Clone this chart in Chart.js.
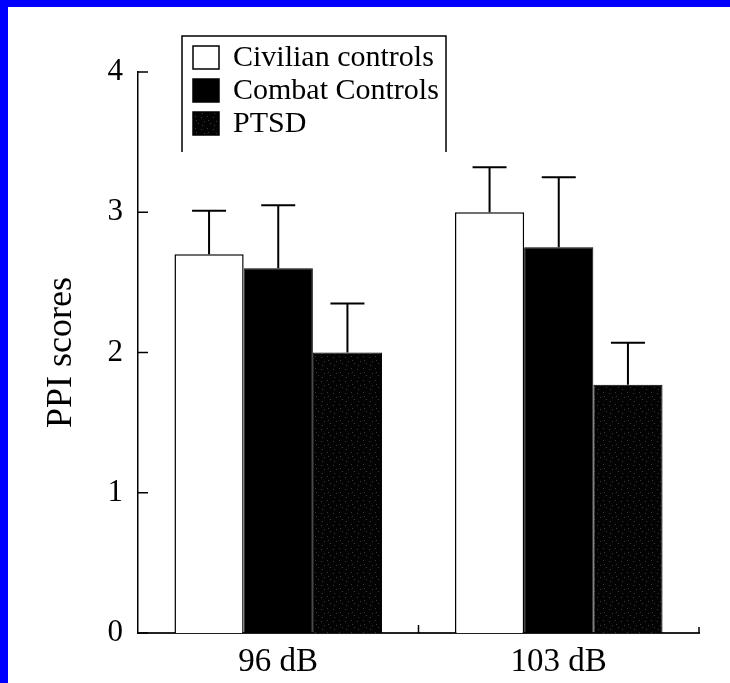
<!DOCTYPE html>
<html><head><meta charset="utf-8">
<script src="https://cdn.jsdelivr.net/npm/chart.js@4"></script>
<style>
html,body{margin:0;padding:0;background:#fff;}
#wrap{position:absolute;left:0;top:0;width:722px;height:676px;border-left:8px solid #0000ff;border-top:7px solid #0000ff;background:#fff;}
#c{display:block;}
</style></head><body>
<div id="wrap"><canvas id="c" width="722" height="676"></canvas></div>
<script>
const categories = ['96 dB', '103 dB'];
const seriesNames = ['Civilian controls', 'Combat Controls', 'PTSD'];
const civilian = [2.70, 3.00];
const combat = [2.60, 2.75];
const ptsd = [2.00, 1.77];
const civilianErr = [0.31, 0.32];
const combatErr = [0.45, 0.50];
const ptsdErr = [0.35, 0.30];
const yTicks = [0, 1, 2, 3, 4];

const FONT = '"Liberation Serif", "Times New Roman", serif';

// speckled near-black texture for the PTSD bars (fixed dot layout)
function speckle() {
  const c = document.createElement('canvas');
  c.width = 12; c.height = 12;
  const g = c.getContext('2d');
  g.fillStyle = '#030303';
  g.fillRect(0, 0, 12, 12);
  g.fillStyle = '#3a3a3a';
  [[1,2],[7,1],[4,6],[10,8],[2,10],[8,5]].forEach(p => g.fillRect(p[0], p[1], 1, 1));
  return g.createPattern(c, 'repeat');
}

const errorBars = {
  id: 'errorBars',
  afterDatasetsDraw(chart) {
    const ctx = chart.ctx, ys = chart.scales.y;
    chart.data.datasets.forEach((ds, i) => {
      const meta = chart.getDatasetMeta(i);
      meta.data.forEach((el, j) => {
        const top = ys.getPixelForValue(ds.data[j] + ds.errors[j]);
        const base = el.y;
        ctx.save();
        ctx.strokeStyle = '#000';
        ctx.lineWidth = 2;
        ctx.beginPath();
        ctx.moveTo(el.x, base);
        ctx.lineTo(el.x, top);
        ctx.moveTo(el.x - 17, top);
        ctx.lineTo(el.x + 17, top);
        ctx.stroke();
        ctx.restore();
      });
    });
  }
};

const inwardTicks = {
  id: 'inwardTicks',
  afterDatasetsDraw(chart) {
    const ctx = chart.ctx, ys = chart.scales.y, xs = chart.scales.x;
    const a = chart.chartArea;
    ctx.save();
    ctx.strokeStyle = '#000';
    ctx.lineWidth = 1.5;
    ctx.beginPath();
    ys.ticks.forEach(t => {
      const y = ys.getPixelForValue(t.value);
      ctx.moveTo(a.left, y);
      ctx.lineTo(a.left + 10, y);
    });
    const n = xs.ticks.length;
    for (let k = 1; k <= n; k++) {
      const x = xs.getPixelForValue(k - 0.5);
      ctx.moveTo(x, a.bottom);
      ctx.lineTo(x, a.bottom - (k === n ? 6 : 8));
    }
    ctx.stroke();
    ctx.restore();
  }
};

const boxLegend = {
  id: 'boxLegend',
  afterDraw(chart) {
    const ctx = chart.ctx;
    const L = 174, R = 438, T = 29, B = 145;
    ctx.save();
    ctx.strokeStyle = '#000';
    ctx.lineWidth = 1.5;
    ctx.beginPath();
    ctx.moveTo(L, B); ctx.lineTo(L, T); ctx.lineTo(R, T); ctx.lineTo(R, B);
    ctx.stroke();
    ctx.font = '30px ' + FONT;
    ctx.textBaseline = 'middle';
    chart.data.datasets.forEach((ds, i) => {
      const cy = 50 + i * 33;
      ctx.fillStyle = ds.backgroundColor;
      ctx.fillRect(185, cy - 11, 26, 23);
      ctx.lineWidth = 1.5;
      ctx.strokeStyle = '#000';
      ctx.strokeRect(185, cy - 11, 26, 23);
      ctx.fillStyle = '#000';
      ctx.fillText(ds.label, 225, cy + 1);
    });
    ctx.restore();
  }
};

new Chart(document.getElementById('c'), {
  type: 'bar',
  data: {
    labels: categories,
    datasets: [
      { label: seriesNames[0], data: civilian, errors: civilianErr, backgroundColor: '#ffffff', borderColor: '#000', borderWidth: 1.5 },
      { label: seriesNames[1], data: combat, errors: combatErr, backgroundColor: '#000000', borderColor: '#000', borderWidth: 1 },
      { label: seriesNames[2], data: ptsd, errors: ptsdErr, backgroundColor: speckle(), borderColor: '#000', borderWidth: 1 }
    ]
  },
  options: {
    responsive: false,
    animation: false,
    devicePixelRatio: 1,
    layout: { padding: { top: 65, right: 31, left: 0, bottom: 0 } },
    plugins: { legend: { display: false }, tooltip: { enabled: false } },
    datasets: { bar: { categoryPercentage: 0.74, barPercentage: 1.0 } },
    scales: {
      x: {
        grid: { display: false, drawTicks: false },
        border: { display: true, color: '#222', width: 2 },
        ticks: { color: '#000', font: { family: FONT, size: 33 }, padding: 10 },
        afterFit: s => { s.height = 50; }
      },
      y: {
        min: 0, max: 4,
        grid: { display: false, drawTicks: false },
        border: { display: true, color: '#000', width: 1.5 },
        afterBuildTicks: s => { s.ticks = yTicks.map(v => ({ value: v })); },
        ticks: { color: '#000', font: { family: FONT, size: 31 }, padding: 15 },
        title: { display: true, text: 'PPI scores', color: '#000', font: { family: FONT, size: 36 }, padding: { top: 32, bottom: 0 } },
        afterFit: s => { s.width = 130; }
      }
    }
  },
  plugins: [errorBars, inwardTicks, boxLegend]
});
</script>
</body></html>
